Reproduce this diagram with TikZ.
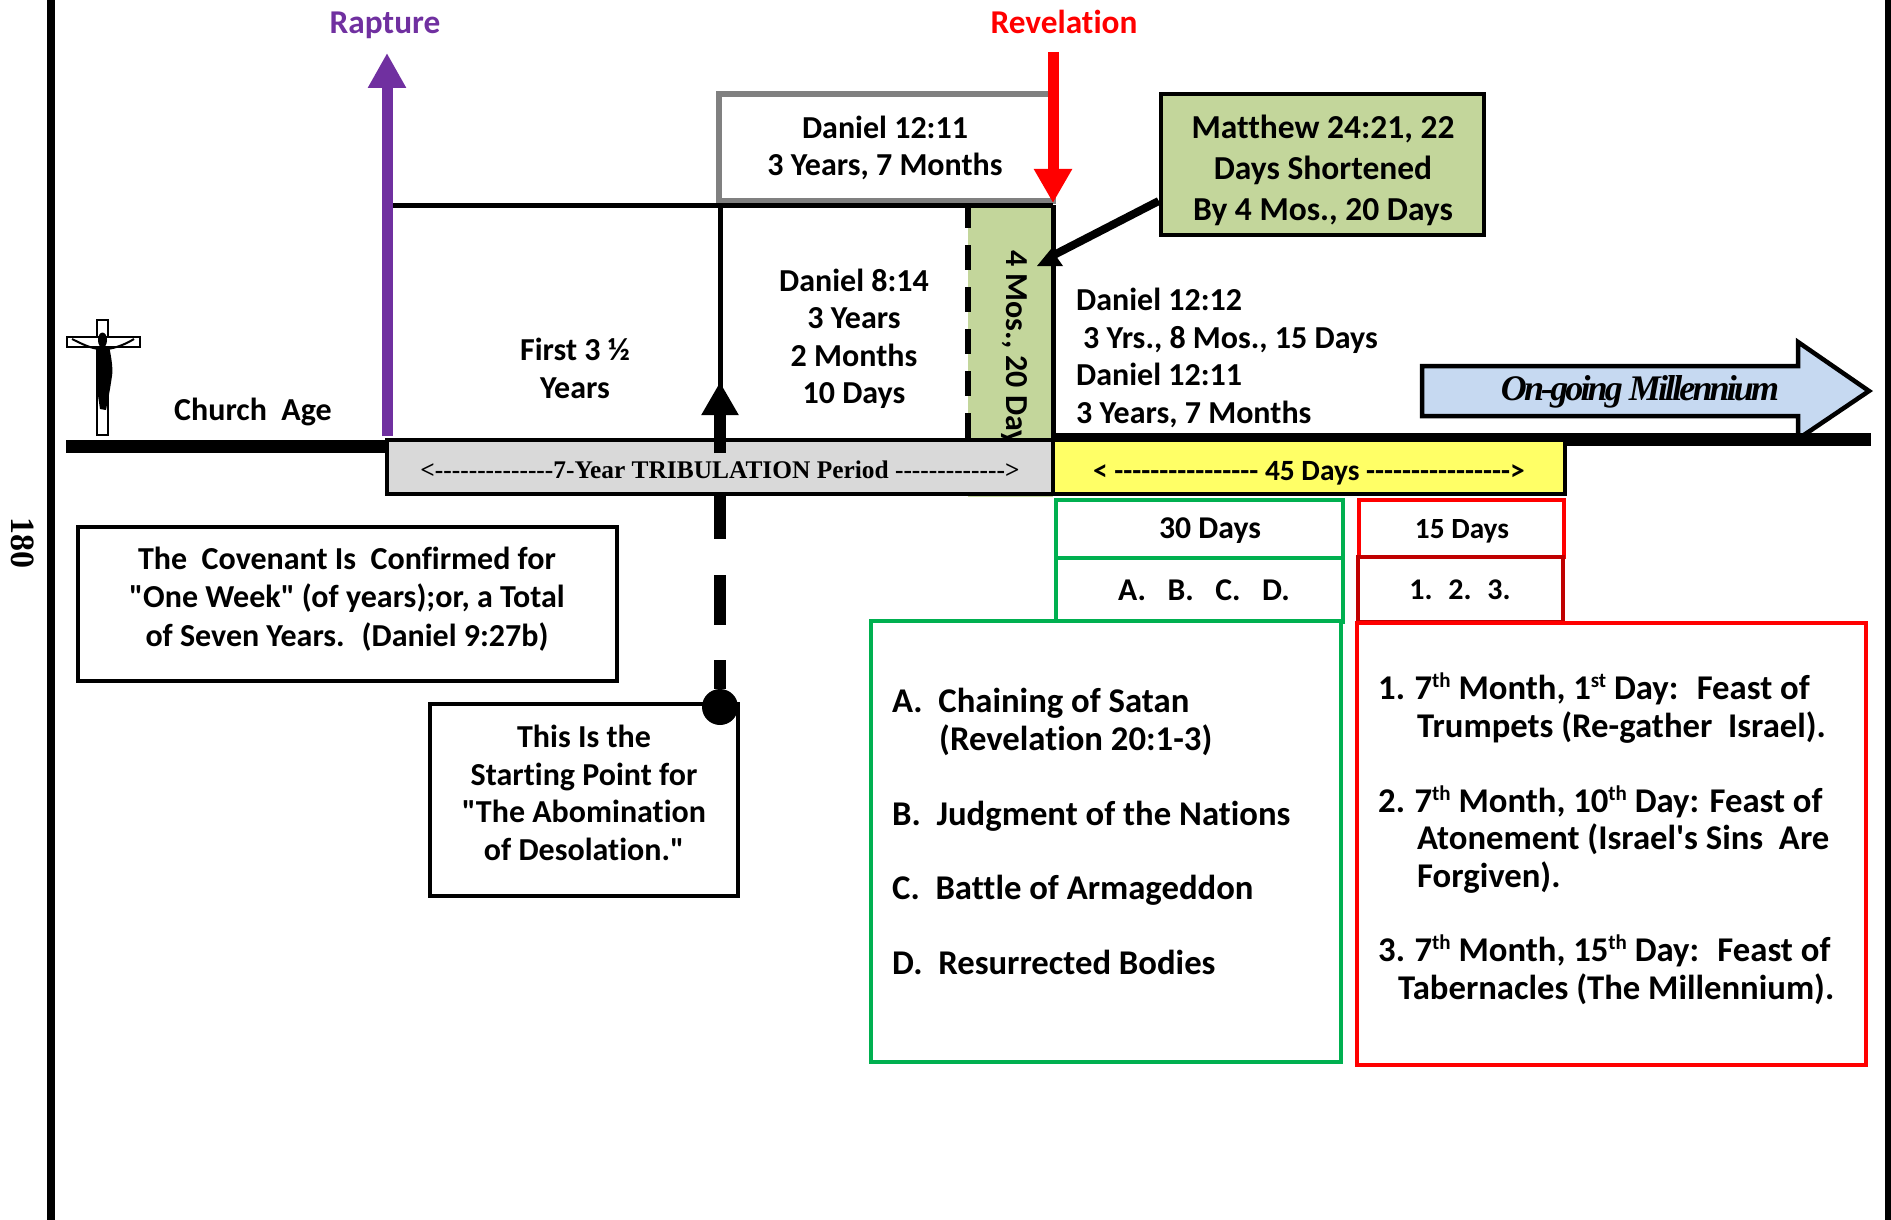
\documentclass[tikz,border=0pt]{standalone}
\usepackage{fontspec}
\newfontfamily\carl{Carlito}[Ligatures=NoCommon]
\newfontfamily\timesf{Liberation Serif}
\usetikzlibrary{arrows.meta}
\definecolor{purp}{HTML}{7030A0}
\definecolor{olive}{HTML}{C3D69B}
\definecolor{lightgr}{HTML}{D9D9D9}
\definecolor{yel}{HTML}{FFFF66}
\definecolor{skyb}{HTML}{C6D9F1}
\definecolor{grn}{HTML}{00B050}
\definecolor{redd}{HTML}{FF0000}
\definecolor{dred}{HTML}{C00000}
\newcommand{\fs}[2]{\carl\fontsize{#1}{#2}\selectfont\bfseries}
\newcommand{\supr}[1]{\raisebox{12pt}{\fontsize{21}{21}\selectfont #1}}
\tikzset{
  x=1pt,y=-1pt,
  box/.style={draw=black,line width=4.5pt,fill=white,inner sep=0pt,align=center,font=\fs{32}{37.5}},
  txt/.style={inner sep=0pt,align=center,font=\fs{32}{37.5}},
  ltxt/.style={inner sep=0pt,align=left,anchor=base west,font=\fs{34.7}{37.5}},
  thick line/.style={line width=5pt},
  mainline/.style={line width=13pt},
  millfont/.style={inner sep=0pt,font=\timesf\fontsize{36}{36}\selectfont\bfseries\itshape\addfontfeatures{LetterSpace=-8}},
}
\begin{document}
\begin{tikzpicture}
\useasboundingbox (0,0) rectangle (1891,1220);
% page bars
\fill[black] (47,0) rectangle (55,1220);
\fill[black] (1885,0) rectangle (1891,1220);
\node[rotate=-90,inner sep=0pt,font=\timesf\fontsize{34}{34}\selectfont\bfseries] (pageno) at (23,543) {180};

% cross
\draw[black,fill=white,line width=1.5pt] (97,320) rectangle (108,435);
\draw[black,fill=white,line width=1.5pt] (67,337) rectangle (140,347);
\fill[black] (102.5,340) ellipse (4.5 and 7.5);
\fill[black] (97,346) -- (109,346) .. controls (112,360) and (113,370) .. (112,376)
  .. controls (110,390) and (108,400) .. (106,410) -- (100,409)
  .. controls (98,395) and (96,385) .. (97,372) -- cycle;
\draw[black,line width=2pt] (72,339) .. controls (82,344) and (90,348) .. (99,349);
\draw[black,line width=2pt] (134,339) .. controls (126,344) and (116,348) .. (107,349);

% labels top
\node[inner sep=0pt,anchor=base,font=\fs{33.3}{37.5},text=purp] (rapture) at (385,34) {Rapture};
\node[inner sep=0pt,anchor=base,font=\fs{33.3}{37.5},text=redd] (revelation) at (1064,34) {Revelation};

% green 4 months strip
\node[fill=olive,inner sep=0pt,minimum width=85pt,minimum height=289pt] (strip) at (1010.5,352.5) {};
\node[txt,rotate=-90,anchor=west] (fourmos) at (1014,250) {4 Mos., 20 Days};
\coordinate (stripTop) at (968,203);
\coordinate (stripBot) at (968,440);
\draw[line width=6pt,dash pattern=on 25pt off 17pt] (stripTop) -- (stripBot);

% Church age line etc
\coordinate (lineA) at (66,446);
\coordinate (lineB) at (390,446);
\draw[mainline] (lineA) -- (lineB);
\coordinate (lineC) at (1053,439.5);
\coordinate (lineD) at (1871,439.5);

% arrow millennium
\draw[black,line width=4.5pt,fill=skyb,line join=miter] (1422,366) -- (1798,366) -- (1798,342) -- (1869,391) -- (1798,439) -- (1798,416) -- (1422,416) -- cycle;
\node[millfont] (millen) at (1640,392) {On-going Millennium};
\draw[mainline] (lineC) -- (lineD);

% Daniel 12:11 box
\node[box,draw=gray,line width=5.5pt,minimum width=334pt,minimum height=107pt] (dan1211) at (886,147.5) {};
\node[txt] (dan1211t) at (885,148) {Daniel 12:11\\3 Years, 7 Months};

% frame lines
\coordinate (topL) at (393,205);
\coordinate (topR) at (1053,205);
\coordinate (botR) at (1053,440);
\coordinate (midT) at (720,205);
\coordinate (midB) at (720,400);
\draw[thick line] (topL) -- (topR);
\draw[thick line] (topR) -- (botR);
\draw[thick line] (midT) -- (midB);

% text
\node[txt] (first) at (575,368.5) {First 3 ½\\Years};
\node[txt] (dan814) at (854,339) {Daniel 8:14\\3 Years\\2 Months\\10 Days};
\node[txt] (church) at (253,412) {Church~ Age};
\node[inner sep=0pt,align=left,anchor=base west,font=\fs{32}{37.5}] (dan1212) at (1076,423) {Daniel 12:12\\\hspace*{7pt}3 Yrs., 8 Mos., 15 Days\\Daniel 12:11\\3 Years, 7 Months};

% bars
\node[box,fill=lightgr,minimum width=666pt,minimum height=54pt] (gray) at (720,467) {};
\node[inner sep=0pt,font=\timesf\fontsize{25.4}{25.4}\selectfont\bfseries] (grayt) at (720,470) {<--------------7-Year TRIBULATION Period ------------->};
\node[box,fill=yel,minimum width=512pt,minimum height=54pt] (yellow) at (1309,467) {};
\node[inner sep=0pt,font=\fs{29.4}{30}] (yellowt) at (1309,473) {< ---------------- 45 Days ---------------->};

% arrows
\coordinate (raptFoot) at (387,436);
\coordinate (raptTip) at (387,53);
\draw[purp,line width=11pt,-{Triangle[length=35pt,width=36pt]}] (raptFoot) -- (raptTip);
\coordinate (revTop) at (1053,52);
\coordinate (revTip) at (1053,203);
\draw[redd,line width=11pt,-{Triangle[length=34pt,width=36pt]}] (revTop) -- (revTip);
\coordinate (abomFoot) at (720,453);
\coordinate (abomTip) at (720,382);
\draw[black,line width=12pt,-{Triangle[length=33pt,width=35pt]}] (abomFoot) -- (abomTip);

% Matthew box and pointer
\node[box,fill=olive,minimum width=323pt,minimum height=141pt] (matt) at (1322.5,164.5) {};
\node[inner sep=0pt,align=center,font=\fs{33.5}{41}] (mattt) at (1323,170) {Matthew 24:21, 22\\Days Shortened\\By 4 Mos., 20 Days};
\coordinate (mattPt) at (1050,257);
\draw[black,line width=8pt] (matt.west |- 0,201) -- (mattPt);
\fill[black] (1037,266) -- (1063,266) -- (1051,249) -- cycle;

% lower boxes
\node[box,minimum width=539pt,minimum height=154pt] (cov) at (347.5,604) {};
\node[inner sep=0pt,align=center,font=\fs{32}{38.5}] (covt) at (347,599) {The~ Covenant Is~ Confirmed for\\"One Week" (of years);or, a Total\\of Seven Years.~ (Daniel 9:27b)};
\node[box,minimum width=308pt,minimum height=192pt] (abom) at (584,800) {};
\node[txt] (abomt) at (584,793) {This Is the\\Starting Point for\\"The Abomination\\of Desolation."};
\node[circle,fill=black,inner sep=0pt,minimum size=36pt] (dot) at (720,707) {};
\draw[black,line width=12pt,dash pattern=on 43pt off 36pt on 50pt off 35pt on 50pt] (gray.south) -- (dot);

\node[box,draw=grn,minimum width=287pt,minimum height=58pt] (d30) at (1199.5,529) {};
\node[inner sep=0pt,font=\fs{31.7}{32}] (d30t) at (1210,531) {30 Days};
\node[box,draw=grn,minimum width=287pt,minimum height=64pt] (abcd) at (1199.5,590) {};
\node[inner sep=0pt,font=\fs{31.7}{32}] (abcdt) at (1204,590) {A.~~ B.~~ C.~~ D.};
\node[box,draw=redd,minimum width=205pt,minimum height=57pt] (d15) at (1461.5,528.5) {};
\node[inner sep=0pt,font=\fs{29.3}{32}] (d15t) at (1462,531) {15 Days};
\node[box,draw=dred,minimum width=205pt,minimum height=65pt] (n123) at (1460.5,589.5) {};
\node[inner sep=0pt,font=\fs{30}{32}] (n123t) at (1460,590) {1.~ 2.~ 3.};
\node[box,draw=grn,minimum width=470pt,minimum height=441pt] (gbig) at (1106,841.5) {};
\node[box,draw=redd,minimum width=509pt,minimum height=442pt] (rbig) at (1611.5,844) {};

\node[ltxt] (la) at (892,750) {A.~ Chaining of Satan\\\hspace*{47pt}(Revelation 20:1-3)};
\node[ltxt] (lb) at (892,825) {B.~ Judgment of the Nations};
\node[ltxt] (lc) at (892,899) {C.~ Battle of Armageddon};
\node[ltxt] (ld) at (892,974) {D.~ Resurrected Bodies};

\node[ltxt] (r1) at (1378,737) {1.\kern-1pt{} 7\supr{th} Month, 1\supr{st} Day:~ Feast of\\\hspace*{39pt}Trumpets (Re-gather~ Israel).};
\node[ltxt] (r2) at (1378,887) {2.\kern-1pt{} 7\supr{th} Month, 10\supr{th} Day: Feast of\\\hspace*{39pt}Atonement (Israel's Sins~ Are\\\hspace*{39pt}Forgiven).};
\node[ltxt] (r3) at (1378,999) {3.\kern-1pt{} 7\supr{th} Month, 15\supr{th} Day:~ Feast of\\\hspace*{20pt}Tabernacles (The Millennium).};
\end{tikzpicture}
\end{document}
